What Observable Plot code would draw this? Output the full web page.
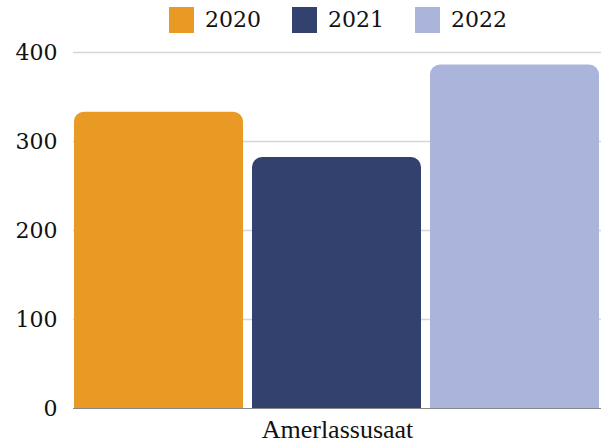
<!DOCTYPE html>
<html>
<head>
<meta charset="utf-8">
<script src="https://cdn.jsdelivr.net/npm/d3@7"></script>
<script src="https://cdn.jsdelivr.net/npm/@observablehq/plot@0.6"></script>
<style>
  html, body { margin: 0; padding: 0; background: #fff; }
  #chart { width: 613px; height: 445px; overflow: hidden; }
  .legend { height: 40px; display: flex; align-items: flex-start; padding-left: 169px; box-sizing: border-box; padding-top: 7px;
            font-family: "DejaVu Serif", serif; font-size: 22px; color: #111; }
  .item { display: flex; align-items: center; margin-right: 31px; }
  .sw { width: 25px; height: 26px; margin-right: 11px; }
  .lbl { line-height: 26px; }
</style>
</head>
<body>
<div id="chart"></div>
<script>
const categories = ["Amerlassusaat"];
const years = ["2020", "2021", "2022"];
const values = [333, 282, 386];
const yTicks = [0, 100, 200, 300, 400];

const palette = ["#E99A25", "#33416E", "#ABB5DC"];

const data = years.map((yr, i) => ({ category: categories[0], year: yr, value: values[i] }));

const root = document.getElementById("chart");

// Legend
const legend = document.createElement("div");
legend.className = "legend";
years.forEach((yr, i) => {
  const it = document.createElement("div");
  it.className = "item";
  const sw = document.createElement("div");
  sw.className = "sw";
  sw.style.background = palette[i];
  const lb = document.createElement("span");
  lb.className = "lbl";
  lb.textContent = yr;
  it.appendChild(sw); it.appendChild(lb);
  legend.appendChild(it);
});
root.appendChild(legend);

const plot = Plot.plot({
  width: 613,
  height: 405,
  marginTop: 12,
  marginBottom: 37,
  marginLeft: 73,
  marginRight: 12,
  style: { fontFamily: "DejaVu Serif, serif", fontSize: "22px", color: "#111", background: "#fff" },
  fx: { domain: categories, padding: 0, label: null },
  x: { domain: years, paddingInner: 0.05, paddingOuter: 0, axis: null },
  y: { domain: [0, 400], ticks: yTicks, label: null },
  color: { domain: years, range: palette },
  marks: [
    Plot.gridY(yTicks.filter(d => d > 0), { stroke: "#d6d6d6", strokeOpacity: 1, strokeWidth: 1.5 }),
    Plot.axisY(yTicks, { tickSize: 0, tickPadding: 16, fontSize: 22, fontFamily: "DejaVu Serif, serif", label: null }),
    Plot.axisFx({ anchor: "bottom", tickSize: 0, tickPadding: 11, fontSize: 26, fontFamily: "Liberation Serif, serif", label: null }),
    Plot.barY(data, { fx: "category", x: "year", y: "value", fill: "year", ry1: 10 }),
    Plot.ruleY([0], { stroke: "#888", strokeWidth: 1 })
  ]
});
root.appendChild(plot);
</script>
</body>
</html>
